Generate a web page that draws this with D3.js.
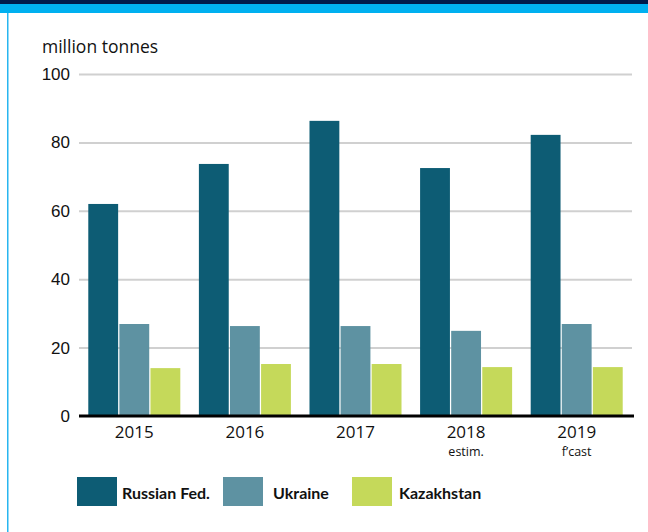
<!DOCTYPE html>
<meta charset="utf-8">
<style>
body { margin: 0; background: #fff; }
svg { display: block; font-family: "Open Sans", "Noto Sans", sans-serif; }
.grid line { stroke: #d0d0d0; stroke-width: 2px; }
</style>
<body>
<script src="https://cdn.jsdelivr.net/npm/d3@7"></script>
<script>

// data
var years = ["2015", "2016", "2017", "2018", "2019"];
var yearNotes = ["", "", "", "estim.", "f\u2019cast"];
var seriesNames = ["Russian Fed.", "Ukraine", "Kazakhstan"];
var russia = [62, 73.7, 86.3, 72.5, 82.2];
var ukraine = [26.9, 26.3, 26.3, 24.9, 26.9];
var kazakhstan = [14.0, 15.2, 15.2, 14.3, 14.3];
var yTicks = [0, 20, 40, 60, 80, 100];
var colors = ["#0d5c74", "#5e92a2", "#c5d95a"];

var W = 648, H = 532;
var svg = d3.select("body").append("svg")
    .attr("width", W)
    .attr("height", H);

// frame: top bands + left rule
svg.append("rect").attr("x", 0).attr("y", 0).attr("width", W).attr("height", 4).attr("fill", "#001a4a");
svg.append("rect").attr("x", 0).attr("y", 4).attr("width", W).attr("height", 9).attr("fill", "#00b0f0");
svg.append("rect").attr("x", 7).attr("y", 13).attr("width", 1.5).attr("height", H - 13).attr("fill", "#29b6f0");

var plotLeft = 79, plotRight = 632, plotTop = 74, plotBottom = 416;

var x0 = d3.scaleBand().domain(years).range([plotLeft, plotRight])
    .paddingInner(0.168).paddingOuter(0.084);
var x1 = d3.scaleBand().domain(seriesNames).range([0, x0.bandwidth()])
    .paddingInner(0.04);
var y = d3.scaleLinear().domain([0, 100]).range([plotBottom, plotTop]);

// gridlines
svg.append("g")
    .attr("class", "grid")
    .attr("transform", "translate(" + plotLeft + ",0)")
    .call(d3.axisLeft(y).tickValues(yTicks.slice(1)).tickSize(-(plotRight - plotLeft)).tickFormat(""))
    .call(function(g) { g.select(".domain").remove(); });

// y labels
svg.append("g").selectAll("text")
    .data(yTicks)
  .enter().append("text")
    .attr("x", 70)
    .attr("y", function(d) { return y(d); })
    .attr("dy", "0.35em")
    .attr("text-anchor", "end")
    .attr("font-family", "Liberation Sans, Arial, sans-serif")
    .attr("font-size", 17)
    .attr("fill", "#111")
    .text(function(d) { return d; });

svg.append("text")
    .attr("x", 42).attr("y", 53)
    .attr("font-size", 17.5)
    .attr("fill", "#111")
    .text("million tonnes");

// bars
var rows = years.map(function(yr, i) {
  return { year: yr, vals: [russia[i], ukraine[i], kazakhstan[i]] };
});

var groups = svg.append("g").selectAll("g")
    .data(rows)
  .enter().append("g")
    .attr("transform", function(d) { return "translate(" + x0(d.year) + ",0)"; });

groups.selectAll("rect")
    .data(function(d) { return d.vals.map(function(v, j) { return { name: seriesNames[j], v: v, j: j }; }); })
  .enter().append("rect")
    .attr("x", function(d) { return x1(d.name); })
    .attr("y", function(d) { return y(d.v); })
    .attr("width", x1.bandwidth())
    .attr("height", function(d) { return y(0) - y(d.v); })
    .attr("fill", function(d) { return colors[d.j]; });

// zero axis
svg.append("line")
    .attr("x1", plotLeft).attr("x2", 634)
    .attr("y1", y(0)).attr("y2", y(0))
    .attr("stroke", "#000").attr("stroke-width", 3);

// x labels
svg.append("g").selectAll("text")
    .data(years)
  .enter().append("text")
    .attr("x", function(d) { return x0(d) + x0.bandwidth() / 2; })
    .attr("y", 438)
    .attr("text-anchor", "middle")
    .attr("font-size", 17)
    .attr("fill", "#111")
    .text(function(d) { return d; });

svg.append("g").selectAll("text")
    .data(years)
  .enter().append("text")
    .attr("x", function(d) { return x0(d) + x0.bandwidth() / 2; })
    .attr("y", 456)
    .attr("text-anchor", "middle")
    .attr("font-size", 12.5)
    .attr("fill", "#111")
    .text(function(d, i) { return yearNotes[i]; });

// legend
var legX = [77, 223, 352];
var legTextDx = [45, 50, 47];
var leg = svg.append("g").selectAll("g")
    .data(seriesNames)
  .enter().append("g")
    .attr("transform", function(d, i) { return "translate(" + legX[i] + ",477)"; });

leg.append("rect")
    .attr("width", 40).attr("height", 29)
    .attr("fill", function(d, i) { return colors[i]; });

leg.append("text")
    .attr("x", function(d, i) { return legTextDx[i]; })
    .attr("y", 22)
    .attr("font-family", "Lato, sans-serif")
    .attr("font-size", 16)
    .attr("font-weight", "bold")
    .attr("fill", "#111")
    .text(function(d) { return d; });

</script>
</body>
